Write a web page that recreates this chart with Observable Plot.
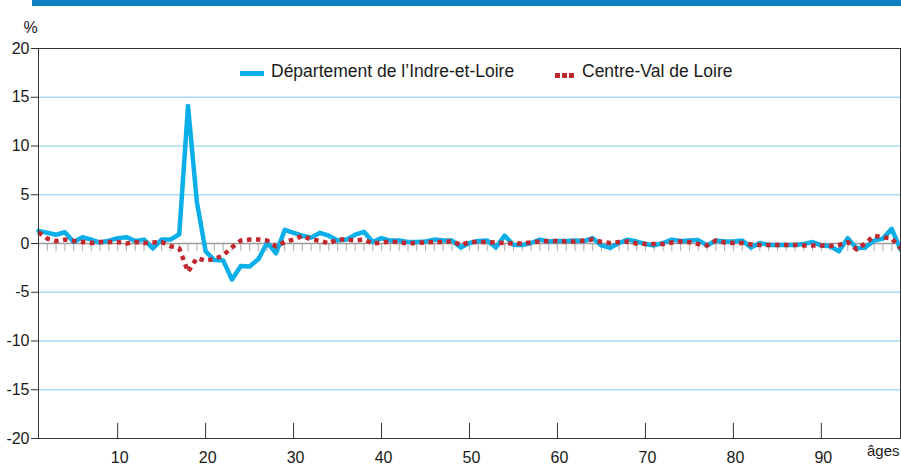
<!DOCTYPE html>
<html><head><meta charset="utf-8">
<script src="https://cdn.jsdelivr.net/npm/d3@7"></script>
<script src="https://cdn.jsdelivr.net/npm/@observablehq/plot@0.6"></script>
<style>
body{margin:0;background:#fff;font-family:"Liberation Sans",Arial,sans-serif;}
#wrap{position:relative;width:901px;height:466px;overflow:hidden;}
#topbar{position:absolute;left:32px;top:0;width:869px;height:6px;background:#0A7FC2;}
.lg{position:absolute;font-size:17.5px;line-height:20px;color:#1a1a1a;white-space:nowrap;}
.sw{position:absolute;}
</style></head><body><div id="wrap"><div id="topbar"></div></div>
<script>
// ---- data ----
const ages = d3.range(1, 100);
const indreEtLoire = [
  1.3, 1.1, 0.9, 1.15, 0.15, 0.65, 0.4, 0.1, 0.3, 0.55,
  0.65, 0.25, 0.4, -0.5, 0.4, 0.4, 0.95, 14.1, 4.3, -0.8,
  -1.7, -1.75, -3.7, -2.3, -2.35, -1.6, 0.1, -1.0, 1.4, 1.1,
  0.8, 0.6, 1.1, 0.8, 0.3, 0.4, 0.9, 1.2, 0.15, 0.55,
  0.3, 0.3, 0.15, 0.15, 0.2, 0.4, 0.3, 0.3, -0.4, 0.05,
  0.25, 0.3, -0.4, 0.8, -0.15, -0.15, 0.05, 0.4, 0.2, 0.25,
  0.25, 0.3, 0.25, 0.55, -0.2, -0.45, 0.05, 0.4, 0.2, -0.05,
  -0.2, 0.05, 0.4, 0.25, 0.3, 0.35, -0.2, 0.3, 0.2, 0.2,
  0.3, -0.4, 0.05, -0.15, -0.15, -0.15, -0.15, -0.05, 0.15, -0.2,
  -0.27, -0.8, 0.55, -0.5, -0.4, 0.3, 0.5, 1.5, -0.6
];
const centreValDeLoire = [
  1.15, 0.5, 0.25, 0.4, 0.25, 0.15, 0.05, 0.15, 0.15, 0.15,
  0.0, 0.15, 0.05, 0.1, 0.15, -0.27, -0.5, -2.9, -1.5, -1.75,
  -1.6, -1.2, -0.4, 0.3, 0.4, 0.4, 0.3, -0.3, 0.15, 0.4,
  0.8, 0.4, 0.3, 0.0, 0.4, 0.4, 0.3, 0.4, 0.0, 0.1,
  0.2, 0.15, 0.0, 0.05, 0.1, 0.15, 0.15, 0.25, -0.15, 0.15,
  0.15, 0.15, 0.1, 0.05, 0.0, 0.0, 0.1, 0.2, 0.25, 0.25,
  0.2, 0.2, 0.3, 0.4, 0.15, 0.05, 0.15, 0.2, 0.0, -0.05,
  -0.05, -0.05, 0.1, 0.2, 0.15, -0.05, -0.2, 0.3, 0.1, 0.05,
  0.05, -0.1, -0.15, -0.15, -0.15, -0.15, -0.15, -0.2, -0.2, -0.2,
  -0.25, -0.15, 0.15, -0.6, 0.0, 0.8, 0.65, 0.5, -0.5
];
const seriesNames = ["Département de l’Indre-et-Loire", "Centre-Val de Loire"];
const yTicks = [-20, -15, -10, -5, 0, 5, 10, 15, 20];
const gridValues = [-15, -10, -5, 5, 10, 15];
const xTicks = [10, 20, 30, 40, 50, 60, 70, 80, 90];
const yUnit = "%";
const xUnit = "âges";

const colors = {indre: "#0AAFEA", centre: "#C1272D"};

const dataIndre = ages.map((a, i) => ({age: a, v: indreEtLoire[i]}));
const dataCentre = ages.map((a, i) => ({age: a, v: centreValDeLoire[i]}));

const font = "'Liberation Sans', Arial, sans-serif";

const chart = Plot.plot({
  width: 901,
  height: 466,
  marginLeft: 38,
  marginRight: 1,
  marginTop: 48,
  marginBottom: 28,
  style: {fontFamily: font, fontSize: "16px", color: "#1a1a1a", background: "transparent"},
  x: {domain: [1, 99], axis: null},
  y: {domain: [-20, 20], axis: null},
  marks: [
    Plot.ruleY(gridValues, {stroke: "#A6DCF3", strokeWidth: 1.5}),
    Plot.ruleX(ages, {y1: 0, y2: -0.85, stroke: "#b8b8b8", strokeWidth: 1.2}),
    Plot.ruleY([0], {stroke: "#9a9a9a", strokeWidth: 1.5}),
    Plot.line(dataIndre, {x: "age", y: "v", stroke: colors.indre, strokeWidth: 4.5, strokeLinejoin: "round"}),
    Plot.line(dataCentre, {x: "age", y: "v", stroke: colors.centre, strokeWidth: 4.5, strokeDasharray: "4.5,4.5", strokeLinecap: "butt"}),
    Plot.frame({stroke: "#333"}),
    Plot.axisY(yTicks, {tickSize: 7, tickPadding: 2, stroke: "#333", tickFormat: d => String(d), label: null, fontSize: 16}),
    Plot.ruleX(xTicks, {y1: -20, y2: -18.45, stroke: "#333"}),
    Plot.axisX(xTicks, {tickSize: 0, tickPadding: 13, dx: 2, tickFormat: d => String(d), label: null, fontSize: 16}),
    Plot.text([yUnit], {frameAnchor: "top-left", dx: -15, dy: -27, fontSize: 16}),
    Plot.text([xUnit], {frameAnchor: "bottom-right", dx: -1, dy: 17, textAnchor: "end", fontSize: 15})
  ]
});

const wrap = document.getElementById("wrap");
chart.style.position = "absolute";
chart.style.left = "0";
chart.style.top = "0";
wrap.appendChild(chart);

// legend
function addLegend() {
  const sw1 = document.createElement("div");
  sw1.className = "sw";
  Object.assign(sw1.style, {left: "240px", top: "71px", width: "24px", height: "5px", background: colors.indre});
  wrap.appendChild(sw1);
  const t1 = document.createElement("div");
  t1.className = "lg";
  Object.assign(t1.style, {left: "271px", top: "61px"});
  t1.textContent = seriesNames[0];
  wrap.appendChild(t1);
  for (let k = 0; k < 3; k++) {
    const d = document.createElement("div");
    d.className = "sw";
    Object.assign(d.style, {left: (555 + k * 7) + "px", top: "73px", width: "4.5px", height: "4.5px", background: colors.centre});
    wrap.appendChild(d);
  }
  const t2 = document.createElement("div");
  t2.className = "lg";
  Object.assign(t2.style, {left: "582px", top: "61px"});
  t2.textContent = seriesNames[1];
  wrap.appendChild(t2);
}
addLegend();
</script>
</body></html>
